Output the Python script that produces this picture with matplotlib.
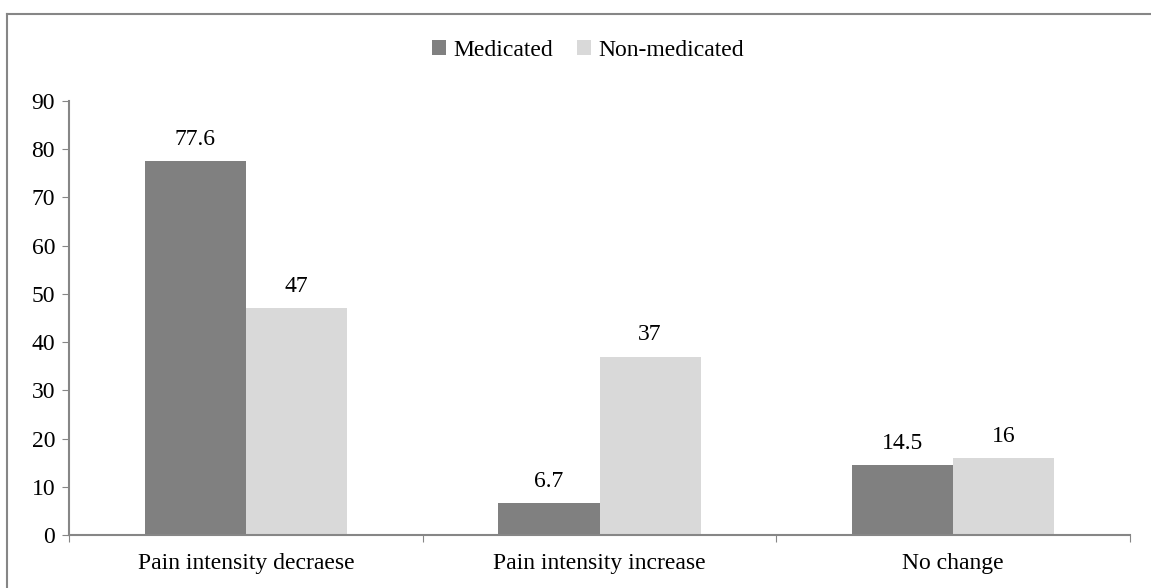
import matplotlib
matplotlib.use('Agg')
import matplotlib.pyplot as plt
from matplotlib.lines import Line2D
import numpy as np

plt.rcParams['font.family'] = ['Liberation Serif', 'DejaVu Serif']

# data
categories = ['Pain intensity decraese', 'Pain intensity increase', 'No change']
medicated = [77.6, 6.7, 14.5]
non_medicated = [47, 37, 16]
value_labels_med = ['77.6', '6.7', '14.5']
value_labels_non = ['47', '37', '16']

COLOR_MED = '#808080'
COLOR_NON = '#d9d9d9'
AXIS_GRAY = '#868686'
FS = 17

W, H = 1151, 588
fig = plt.figure(figsize=(W / 100, H / 100), dpi=100)
ax = fig.add_axes([69 / W, 1 - 535 / H, (1130 - 69) / W, (535 - 101) / H])

x = np.arange(len(categories))
bw = 1 / 3.5
bars1 = ax.bar(x - bw / 2, medicated, bw, color=COLOR_MED, label='Medicated')
bars2 = ax.bar(x + bw / 2, non_medicated, bw, color=COLOR_NON, label='Non-medicated')

for bar, lab in zip(bars1, value_labels_med):
    ax.annotate(lab, (bar.get_x() + bar.get_width() / 2, bar.get_height()),
                xytext=(0, 8), textcoords='offset points', ha='center', va='bottom', fontsize=FS)
for bar, lab in zip(bars2, value_labels_non):
    ax.annotate(lab, (bar.get_x() + bar.get_width() / 2, bar.get_height()),
                xytext=(0, 8), textcoords='offset points', ha='center', va='bottom', fontsize=FS)

ax.set_xlim(-0.5, len(categories) - 0.5)
ax.set_ylim(0, 90)
ax.set_yticks(range(0, 91, 10))
ax.tick_params(axis='y', direction='out', length=5, color=AXIS_GRAY, labelsize=FS, pad=5)

# category labels in the middle, tick marks on the boundaries
ax.set_xticks(np.arange(-0.5, len(categories), 1.0))
ax.set_xticklabels([])
ax.set_xticks(x, minor=True)
ax.set_xticklabels(categories, minor=True, fontsize=FS)
ax.tick_params(axis='x', which='major', direction='out', length=5, color=AXIS_GRAY)
ax.tick_params(axis='x', which='minor', length=0, pad=13)

ax.spines['top'].set_visible(False)
ax.spines['right'].set_visible(False)
for s in ['left', 'bottom']:
    ax.spines[s].set_color(AXIS_GRAY)
    ax.spines[s].set_linewidth(1.5)

fig.legend(handles=[bars1, bars2], loc='center', bbox_to_anchor=(588 / W, 1 - 50 / H), ncol=2,
           frameon=False, fontsize=FS, handlelength=0.6, handleheight=0.6,
           handletextpad=0.3, columnspacing=1.0)

# outer chart border
fig.add_artist(Line2D([7.5 / W, 7.5 / W], [0, 1 - 13.5 / H], color=AXIS_GRAY, lw=1.5))
fig.add_artist(Line2D([7.5 / W, 1], [1 - 13.5 / H, 1 - 13.5 / H], color=AXIS_GRAY, lw=1.5))

fig.savefig('out.png', dpi=100, facecolor='white')
